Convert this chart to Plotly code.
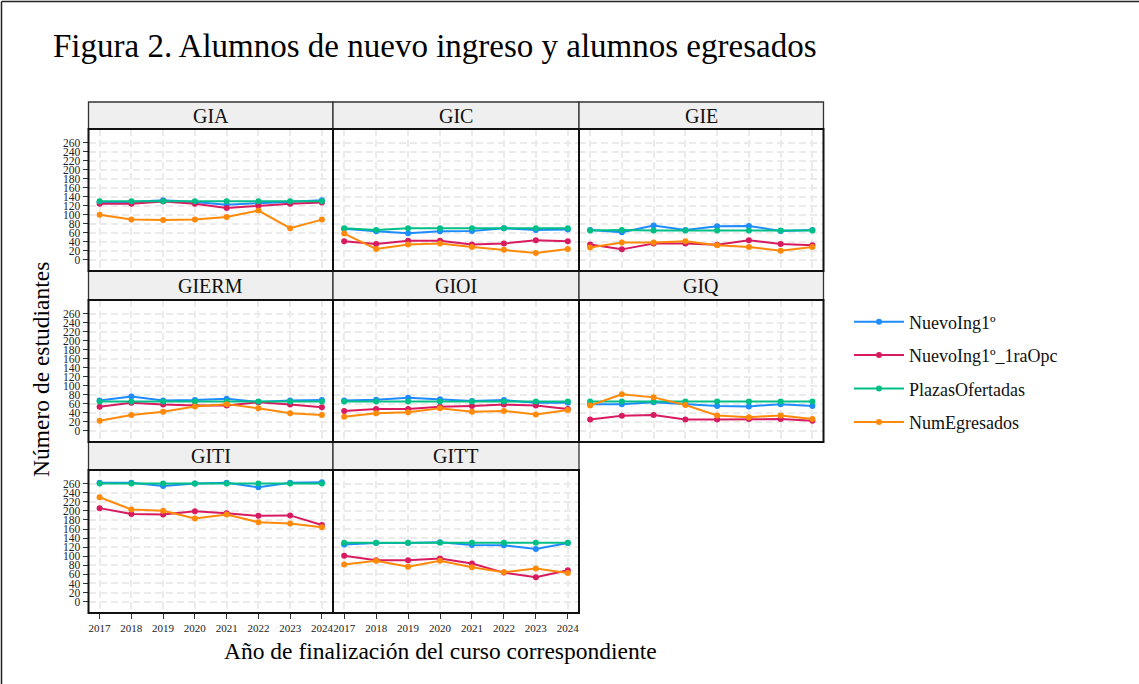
import plotly.graph_objects as go

W, H = 1139, 684

years = [2017, 2018, 2019, 2020, 2021, 2022, 2023, 2024]
panels = ["GIA", "GIC", "GIE", "GIERM", "GIOI", "GIQ", "GITI", "GITT"]
series_names = ["NuevoIng1º", "NuevoIng1º_1raOpc", "PlazasOfertadas", "NumEgresados"]
series_colors = ["#1E8BFF", "#D81B60", "#00BF86", "#FF8A0A"]

nuevo_ing = {
    "GIA": [128, 128, 132, 128, 122, 125, 128, 132],
    "GIC": [69, 63, 59, 63, 64, 70, 66, 67],
    "GIE": [66, 61, 76, 66, 74, 75, 64, 66],
    "GIERM": [67, 76, 67, 68, 71, 64, 67, 68],
    "GIOI": [67, 69, 73, 70, 66, 68, 62, 62],
    "GIQ": [59, 59, 63, 59, 55, 54, 59, 55],
    "GITI": [262, 262, 255, 260, 262, 252, 262, 263],
    "GITT": [126, 129, 129, 131, 125, 124, 116, 129],
}
nuevo_ing_1ra = {
    "GIA": [124, 124, 129, 124, 115, 120, 124, 127],
    "GIC": [41, 35, 42, 42, 34, 36, 43, 41],
    "GIE": [34, 23, 36, 36, 33, 43, 35, 32],
    "GIERM": [53, 62, 58, 56, 56, 63, 58, 52],
    "GIOI": [44, 48, 48, 53, 55, 58, 56, 48],
    "GIQ": [25, 33, 35, 25, 25, 26, 26, 22],
    "GITI": [206, 193, 192, 199, 195, 189, 190, 169],
    "GITT": [101, 91, 91, 95, 84, 64, 54, 69],
}
plazas = {
    "GIA": [130, 130, 130, 130, 130, 130, 130, 130],
    "GIC": [70, 66, 70, 70, 70, 70, 70, 70],
    "GIE": [65, 66, 65, 65, 65, 65, 65, 65],
    "GIERM": [65, 65, 65, 65, 65, 65, 65, 65],
    "GIOI": [65, 65, 65, 65, 65, 65, 65, 65],
    "GIQ": [65, 65, 65, 65, 65, 65, 65, 65],
    "GITI": [260, 260, 260, 260, 260, 260, 260, 260],
    "GITT": [130, 130, 130, 130, 130, 130, 130, 130],
}
egresados = {
    "GIA": [100, 89, 88, 89, 95, 109, 70, 89],
    "GIC": [58, 24, 34, 36, 28, 22, 15, 24],
    "GIE": [27, 38, 38, 41, 32, 28, 20, 28],
    "GIERM": [22, 35, 42, 54, 59, 50, 39, 35],
    "GIOI": [31, 39, 41, 50, 42, 44, 36, 46],
    "GIQ": [56, 81, 74, 57, 34, 30, 34, 26],
    "GITI": [230, 203, 200, 183, 192, 175, 172, 164],
    "GITT": [82, 90, 77, 90, 76, 65, 73, 63],
}
all_series = [nuevo_ing, nuevo_ing_1ra, plazas, egresados]

y_ticks = [0, 20, 40, 60, 80, 100, 120, 140, 160, 180, 200, 220, 240, 260]

FONT = "Liberation Serif, Times New Roman, serif"

# layout geometry (pixels)
col_x = [(88.5, 333.0), (333.0, 579.0), (579.0, 823.5)]
row_plot = [(129.0, 271.0), (300.0, 442.0), (470.0, 613.0)]
row_strip = [(102.0, 129.0), (271.0, 300.0), (442.0, 470.0)]


def px(x):
    return x / W


def py(y):
    return 1 - y / H


fig = go.Figure()
layout_axes = {}
shapes = []
annotations = []

for i, p in enumerate(panels):
    r, c = divmod(i, 3)
    n = i + 1
    xa = "x" if n == 1 else f"x{n}"
    ya = "y" if n == 1 else f"y{n}"
    xkey = "xaxis" if n == 1 else f"xaxis{n}"
    ykey = "yaxis" if n == 1 else f"yaxis{n}"
    x0, x1 = col_x[c]
    yt, yb = row_plot[r]
    bottom_row = p in ("GITI", "GITT")
    layout_axes[xkey] = dict(
        domain=[px(x0), px(x1)], anchor=ya, range=[2016.65, 2024.35],
        tickvals=years, ticktext=[str(v) for v in years],
        showticklabels=bottom_row, ticks="outside" if bottom_row else "",
        ticklen=5, tickcolor="#333333", tickwidth=1,
        tickfont=dict(family=FONT, size=11, color="#222222"),
        showgrid=True, gridcolor="#ebebeb", gridwidth=1.5, griddash="7px,4px",
        showline=False, zeroline=False, fixedrange=True,
    )
    layout_axes[ykey] = dict(
        domain=[py(yb), py(yt)], anchor=xa, range=[-25, 290],
        tickvals=y_ticks, ticktext=[str(v) for v in y_ticks],
        showticklabels=(c == 0), ticks="outside" if c == 0 else "",
        ticklen=5, tickcolor="#333333", tickwidth=1,
        tickfont=dict(family=FONT, size=11.5, color="#222222"),
        showgrid=True, gridcolor="#ebebeb", gridwidth=1.5, griddash="7px,4px",
        showline=False, zeroline=False, fixedrange=True,
    )
    # strip
    s0, s1 = row_strip[r]
    shapes.append(dict(type="rect", xref="paper", yref="paper",
                       x0=px(x0), x1=px(x1), y0=py(s1), y1=py(s0),
                       fillcolor="#efefef", line=dict(color="#333333", width=1.3),
                       layer="below"))
    # panel border
    shapes.append(dict(type="rect", xref="paper", yref="paper",
                       x0=px(x0), x1=px(x1), y0=py(yb), y1=py(yt),
                       fillcolor="rgba(0,0,0,0)", line=dict(color="#111111", width=2),
                       layer="above"))
    annotations.append(dict(text=p, xref="paper", yref="paper",
                            x=px((x0 + x1) / 2), y=py((s0 + s1) / 2),
                            xanchor="center", yanchor="middle", showarrow=False,
                            font=dict(family=FONT, size=20, color="#111111")))
    for k, (name, color, data) in enumerate(zip(series_names, series_colors, all_series)):
        fig.add_trace(go.Scatter(
            x=years, y=data[p], xaxis=xa, yaxis=ya, mode="lines+markers",
            name=name, legendgroup=name, showlegend=(i == 0),
            line=dict(color=color, width=2), marker=dict(color=color, size=6),
        ))

# title and axis titles
annotations.append(dict(text="Figura 2. Alumnos de nuevo ingreso y alumnos egresados",
                        xref="paper", yref="paper", x=px(51), y=py(46),
                        xanchor="left", yanchor="middle", showarrow=False,
                        font=dict(family=FONT, size=33, color="#000000")))
annotations.append(dict(text="Número de estudiantes", xref="paper", yref="paper",
                        x=px(41), y=py(370), xanchor="center", yanchor="middle",
                        textangle=-90, showarrow=False,
                        font=dict(family=FONT, size=23.5, color="#000000")))
annotations.append(dict(text="Año de finalización del curso correspondiente",
                        xref="paper", yref="paper", x=px(440), y=py(651),
                        xanchor="center", yanchor="middle", showarrow=False,
                        font=dict(family=FONT, size=23.5, color="#000000")))

# outer frame (left & top)
shapes.append(dict(type="line", xref="paper", yref="paper", x0=px(1.5), x1=px(1.5),
                   y0=0, y1=py(1.5), line=dict(color="#222222", width=1.5)))
shapes.append(dict(type="line", xref="paper", yref="paper", x0=px(1.5), x1=1,
                   y0=py(1.5), y1=py(1.5), line=dict(color="#222222", width=1.5)))

fig.update_layout(
    width=W, height=H, margin=dict(l=0, r=0, t=0, b=0),
    paper_bgcolor="white", plot_bgcolor="white",
    font=dict(family=FONT),
    shapes=shapes, annotations=annotations,
    legend=dict(x=px(849), y=py(372), xanchor="left", yanchor="middle",
                traceorder="grouped", tracegroupgap=7, itemwidth=50,
                font=dict(family=FONT, size=18, color="#111111"),
                bgcolor="rgba(0,0,0,0)"),
    **layout_axes,
)

fig.write_html("out.html", config={"displayModeBar": False},
               post_script="document.body.style.margin='0px';")
